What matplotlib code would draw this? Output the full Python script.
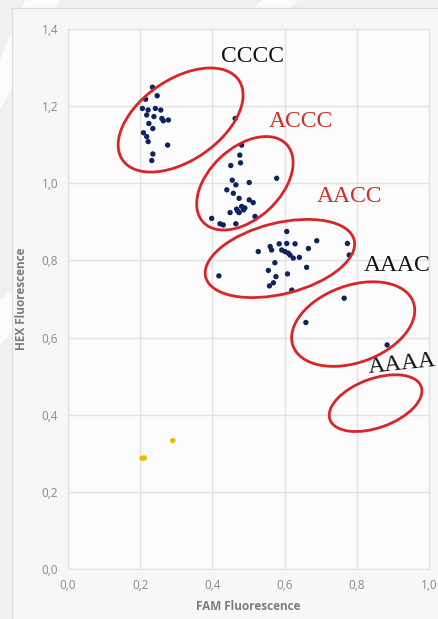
import matplotlib
matplotlib.use("Agg")
import matplotlib.pyplot as plt
from matplotlib.patches import Ellipse, Rectangle, Polygon

# Allelic discrimination: FAM vs HEX fluorescence per sample
cccc_fam = [0.234, 0.247, 0.215, 0.206, 0.222, 0.242, 0.257, 0.218, 0.238, 0.260,
            0.264, 0.278, 0.224, 0.235, 0.209, 0.218, 0.222, 0.276, 0.235, 0.232, 0.463]
cccc_hex = [1.249, 1.227, 1.218, 1.194, 1.190, 1.194, 1.190, 1.177, 1.173, 1.168,
            1.162, 1.164, 1.155, 1.142, 1.131, 1.121, 1.108, 1.099, 1.076, 1.059, 1.168]

accc_fam = [0.481, 0.476, 0.478, 0.451, 0.578, 0.455, 0.465, 0.502, 0.440, 0.458,
            0.474, 0.502, 0.513, 0.481, 0.467, 0.486, 0.449, 0.474, 0.518, 0.398,
            0.421, 0.430, 0.465, 0.470, 0.490]
accc_hex = [1.099, 1.073, 1.053, 1.046, 1.013, 1.008, 0.996, 1.002, 0.983, 0.974,
            0.961, 0.957, 0.950, 0.940, 0.933, 0.931, 0.924, 0.924, 0.914, 0.909,
            0.895, 0.892, 0.895, 0.928, 0.936]

aacc_fam = [0.606, 0.527, 0.560, 0.564, 0.585, 0.606, 0.629, 0.689, 0.666, 0.592,
            0.601, 0.610, 0.615, 0.624, 0.641, 0.573, 0.774, 0.779, 0.661, 0.555,
            0.608, 0.576, 0.569, 0.558, 0.620, 0.418]
aacc_hex = [0.875, 0.823, 0.836, 0.827, 0.843, 0.844, 0.843, 0.851, 0.831, 0.827,
            0.823, 0.819, 0.814, 0.806, 0.808, 0.794, 0.844, 0.814, 0.782, 0.774,
            0.765, 0.758, 0.742, 0.734, 0.723, 0.760]

aaac_fam = [0.765, 0.659, 0.884]
aaac_hex = [0.702, 0.639, 0.581]

ntc_fam = [0.205, 0.211, 0.290]
ntc_hex = [0.287, 0.288, 0.333]

x_ticks = [0.0, 0.2, 0.4, 0.6, 0.8, 1.0]
x_tick_labels = ["0,0", "0,2", "0,4", "0,6", "0,8", "1,0"]
y_ticks = [0.0, 0.2, 0.4, 0.6, 0.8, 1.0, 1.2, 1.4]
y_tick_labels = ["0,0", "0,2", "0,4", "0,6", "0,8", "1,0", "1,2", "1,4"]

# Genotype group labels: text, x, y, colour, rotation
group_labels = [
    ("CCCC", 0.510, 1.330, "#111111", 0),
    ("ACCC", 0.644, 1.159, "#d42a2a", 0),
    ("AACC", 0.781, 0.967, "#d42a2a", 0),
    ("AAAC", 0.911, 0.786, "#111111", 0),
    ("AAAA", 0.925, 0.532, "#111111", 6),
]

# Cluster outlines: centre (data), diameters in inches, tilt in degrees
cluster_rings = [
    (0.312, 1.164, 1.41, 0.81, 34.5),
    (0.490, 1.000, 1.14, 0.71, 43.0),
    (0.587, 0.805, 1.53, 0.71, 14.0),
    (0.790, 0.635, 1.28, 0.77, 20.0),
    (0.852, 0.430, 0.97, 0.49, 20.0),
]

W, H = 439, 619
fig = plt.figure(figsize=(W / 100, H / 100), dpi=100)
fig.patch.set_facecolor("#f0f0f0")

# faint diagonal sheen behind the chart panel
for pts in [[(0, 60), (0, 110), (60, 0), (25, 0)],
            [(0, 300), (0, 345), (12, 333), (12, 290)],
            [(262, 0), (298, 0), (290, 8), (254, 8)]]:
    fig.add_artist(Polygon([(x / W, 1 - y / H) for x, y in pts], closed=True,
                           transform=fig.transFigure, facecolor="white",
                           edgecolor="none", alpha=0.85, zorder=0))

# chart area panel
fig.add_artist(Rectangle((12 / W, -0.01), 1.0, (H - 8) / H + 0.01,
                         transform=fig.transFigure, facecolor="#f7f7f7",
                         edgecolor="#dedede", lw=1.0, zorder=0.5))

ax = fig.add_axes([68 / W, 1 - 569 / H, (429 - 68) / W, (569 - 29) / H])
ax.set_zorder(1)
ax.set_facecolor("#fcfcfc")
ax.set_xlim(0, 1.0)
ax.set_ylim(0, 1.4)
ax.set_xticks(x_ticks)
ax.set_xticklabels(x_tick_labels)
ax.set_yticks(y_ticks)
ax.set_yticklabels(y_tick_labels)
ax.grid(True, color="#e2e2e2", lw=1.0)
ax.set_axisbelow(True)
for s in ax.spines.values():
    s.set_color("#e2e2e2")
ax.tick_params(length=0, pad=7, labelsize=8.5, labelcolor="#8a8a8a")
for lab in ax.get_xticklabels() + ax.get_yticklabels():
    lab.set_fontfamily("Open Sans")

ax.set_xlabel("FAM Fluorescence", fontfamily="Open Sans", fontweight="bold",
              fontsize=8.5, color="#7c7c7c", labelpad=6)
ax.set_ylabel("HEX Fluorescence", fontfamily="Open Sans", fontweight="bold",
              fontsize=8.5, color="#7c7c7c", labelpad=10)

navy = "#0e2360"
for fx, hx in [(cccc_fam, cccc_hex), (accc_fam, accc_hex),
               (aacc_fam, aacc_hex), (aaac_fam, aaac_hex)]:
    ax.scatter(fx, hx, s=15, color=navy, edgecolors="none", zorder=3)
ax.scatter(ntc_fam, ntc_hex, s=15, color="#f2b600", edgecolors="none", zorder=3)

for cx, cy, w, h, ang in cluster_rings:
    px, py = ax.transData.transform((cx, cy))
    fig.add_artist(Ellipse((px / fig.dpi, py / fig.dpi), w, h, angle=ang,
                           transform=fig.dpi_scale_trans, fill=False,
                           edgecolor="#d92525", lw=2.0, zorder=4))

for text, x, y, col, rot in group_labels:
    ax.text(x, y, text, color=col, fontsize=17, fontfamily="Liberation Serif",
            ha="center", va="center", rotation=rot, zorder=5, clip_on=False)

fig.savefig("out.png", dpi=100)
